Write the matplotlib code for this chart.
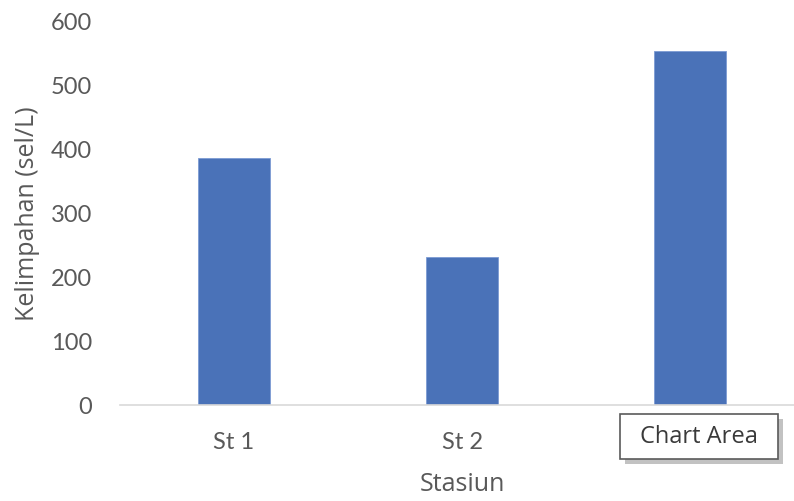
import matplotlib.pyplot as plt
from matplotlib.patches import Rectangle

# Kelimpahan per stasiun
stasiun = ['St 1', 'St 2', 'St 3']
kelimpahan = [386, 230, 553]
y_ticks = [0, 100, 200, 300, 400, 500, 600]

plt.rcParams['font.family'] = ['Lato', 'DejaVu Sans']

fig = plt.figure(figsize=(7.94, 5.02), dpi=100)
ax = fig.add_axes([120 / 794, 96.5 / 502, 684 / 794, 383.5 / 502])

x = range(len(stasiun))
ax.bar(x, kelimpahan, width=0.316, color='#4a72b8', edgecolor='#7c9bd3', linewidth=0.6)

ax.set_xlim(-0.5, len(stasiun) - 0.5)
ax.set_ylim(0, 600)
ax.set_yticks(y_ticks)
ax.set_xticks(list(x))
ax.set_xticklabels(stasiun)

for side in ['top', 'right', 'left']:
    ax.spines[side].set_visible(False)
ax.spines['bottom'].set_color('#d9d9d9')
ax.spines['bottom'].set_linewidth(1.2)
ax.tick_params(axis='both', length=0, colors='#595959', labelsize=17)
ax.tick_params(axis='y', pad=20)
ax.tick_params(axis='x', pad=19)

title_font = dict(family=['Open Sans', 'DejaVu Sans'], fontsize=18, color='#595959')
ax.set_ylabel('Kelimpahan (sel/L)', labelpad=8, **title_font)
ax.set_xlabel('Stasiun', labelpad=14, **title_font)

# tooltip box over the last category label
W, H = 794, 502
shadow = Rectangle((625 / W, 1 - 465 / H), 158 / W, 45 / H, transform=fig.transFigure,
                   facecolor='#9a9a9a', edgecolor='none', alpha=0.6, zorder=10)
box = Rectangle((620 / W, 1 - 460 / H), 158 / W, 45 / H, transform=fig.transFigure,
                facecolor='white', edgecolor='#5a5a5a', linewidth=1.2, zorder=11)
fig.patches.extend([shadow, box])
fig.text(699 / W, 1 - 437.5 / H, 'Chart Area', ha='center', va='center',
         family=['Open Sans', 'DejaVu Sans'], fontsize=17, color='#3a3a3a', zorder=12)

fig.savefig('out.png', dpi=100)
